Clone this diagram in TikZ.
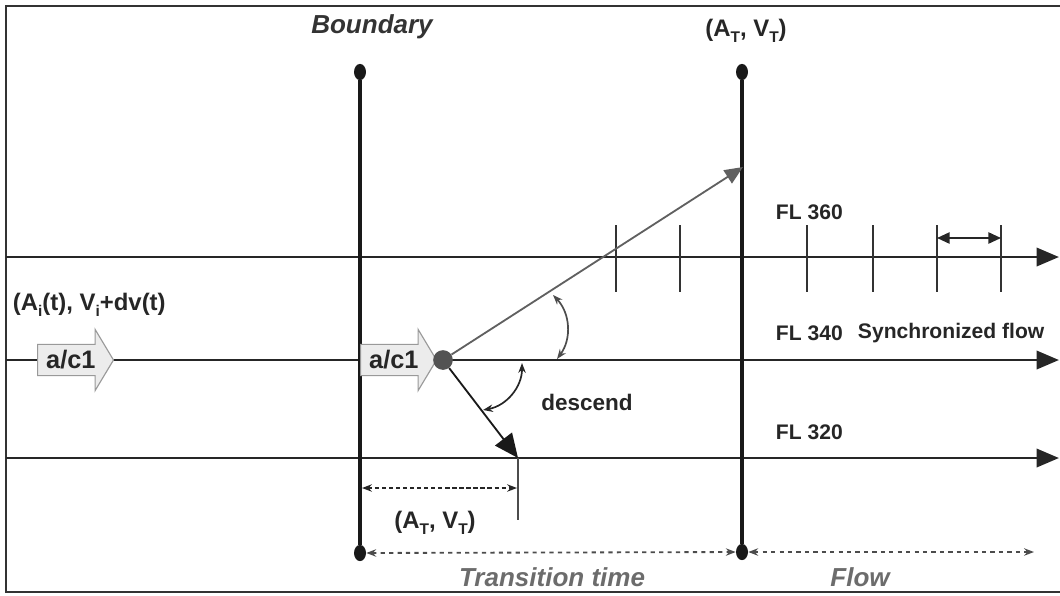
\documentclass[tikz,border=0pt]{standalone}
\usepackage{fontspec}
\setmainfont{Liberation Sans}
\usetikzlibrary{arrows.meta,shapes.arrows,shapes.geometric,positioning}

\newcommand{\lowsub}[1]{\raisebox{-0.5ex}{\fontsize{11}{12}\selectfont #1}}

\begin{document}
\begin{tikzpicture}[
    x=0.025cm, y=-0.025cm,
    lbl/.style={font=\fontsize{17}{20}\selectfont\bfseries, text=black!85},
    fltxt/.style={font=\fontsize{15}{18}\selectfont\bfseries, text=black!85, anchor=west},
    captxt/.style={font=\fontsize{18.5}{22}\selectfont\bfseries\itshape},
    flight/.style={draw=black!85, line width=2.1pt, -{Triangle[length=16pt,width=13pt]}},
    post/.style={draw=black!90, line width=2.8pt},
    postend/.style={ellipse, fill=black!90, minimum width=8.5pt, minimum height=11.5pt, inner sep=0pt},
    tickmark/.style={draw=black!80, line width=1.3pt},
    plane/.style={single arrow, draw=gray!80, fill=gray!15, line width=0.8pt,
        minimum height=54pt, single arrow head extend=10.6pt,
        single arrow tip angle=118, inner xsep=2pt, inner ysep=4pt,
        font=\fontsize{18}{20}\selectfont\bfseries, text=black!85},
    timeline/.style={draw=gray!60!black, dashed, line width=1.3pt,
        {Stealth[length=7pt]}-{Stealth[length=7pt]}}
]

\useasboundingbox (0,0) rectangle (1060,595);
\draw[line width=1.4pt, black!80] (1062,6) -- (6,6) -- (6,592) -- (1062,592);

%% ── Flight levels ────────────────────────────────────────────────
\coordinate (fl360w) at (6,257);  \coordinate (fl360e) at (1059,257);
\coordinate (fl340w) at (6,360);  \coordinate (fl340e) at (1059,360);
\coordinate (fl320w) at (6,458);  \coordinate (fl320e) at (1059,458);
\draw[flight] (fl360w) -- (fl360e);
\draw[flight] (fl340w) -- (fl340e);
\draw[flight] (fl320w) -- (fl320e);

\node[fltxt] (lab360) at (771,212) {FL 360};
\node[fltxt] (lab340) at (771,333) {FL 340};
\node[fltxt] (labsync) at (853,333) {Synchronized flow};
\node[fltxt] (lab320) at (771,432) {FL 320};

%% ── Spacing ticks on FL 360 ──────────────────────────────────────
\foreach \tx in {616,680,807,873,937,1001}
    \draw[tickmark] (\tx,225) -- (\tx,292);
\coordinate (gapL) at (937,238);
\coordinate (gapR) at (1001,238);
\draw[line width=1.3pt, black!85, {Triangle[length=9pt,width=8pt]}-{Triangle[length=9pt,width=8pt]}]
    (gapL) -- (gapR);

%% ── Boundary and target posts ────────────────────────────────────
\node[postend] (bndtop) at (360,72) {};
\node[postend] (bndbot) at (360,553) {};
\node[postend] (tgttop) at (742,72) {};
\node[postend] (tgtbot) at (742,552) {};
\draw[post] (bndtop) -- (bndbot);
\draw[post] (tgttop) -- (tgtbot);

\node[captxt, text=black!80] (bndlab) at (372,27) {Boundary};
\node[lbl] (tgtlab) at (746,31) {(A\lowsub{T}, V\lowsub{T})};

%% ── Aircraft ─────────────────────────────────────────────────────
\node[plane, anchor=tail] (ac1) at (37,360) {a/c1};
\node[lbl, anchor=west] (state) at (8,305) {(A\lowsub{i}(t), V\lowsub{i}+dv(t)};
\node[plane, anchor=tail] (ac2) at (360,360) {a/c1};
\node[circle, fill=gray!65!black, minimum size=14pt, inner sep=0pt] (pos) at (443,360) {};

%% ── Climb and descend paths ──────────────────────────────────────
\coordinate (climb) at (743,167);
\coordinate (dsc) at (518,458);
\coordinate (dscfoot) at (518,520);
\draw[gray!75!black, line width=1.3pt, -{Triangle[length=13pt,width=11pt]}] (pos) -- (climb);
\draw[black!90, line width=1.3pt, -{Triangle[length=17pt,width=15pt]}] (pos) -- (dsc);
\draw[black!70, line width=1.2pt] (dsc) -- (dscfoot);

\coordinate (upA) at (553,295);
\coordinate (upB) at (557,359);
\draw[gray!60!black, line width=1.2pt, {Stealth[length=7pt]}-{Stealth[length=7pt]}]
    (upA) to[bend left=40] (upB);
\coordinate (dnA) at (522,363);
\coordinate (dnB) at (483,410);
\draw[black!85, line width=1.2pt, {Stealth[length=7pt]}-{Stealth[length=7pt]}]
    (dnA) to[bend left=40] (dnB);
\node[lbl, font=\fontsize{16}{18}\selectfont\bfseries] (dsclab) at (587,402) {descend};

%% ── Transition distance ──────────────────────────────────────────
\coordinate (trL) at (362,488);
\coordinate (trR) at (517,488);
\draw[black!85, densely dashed, line width=1.3pt, {Stealth[length=7pt]}-{Stealth[length=7pt]}]
    (trL) -- (trR);
\node[lbl] (trlab) at (435,523) {(A\lowsub{T}, V\lowsub{T})};

%% ── Time axis ────────────────────────────────────────────────────
\coordinate (flowend) at (1034,552);
\draw[timeline] (bndbot) -- (tgtbot);
\draw[timeline] (tgtbot) -- (flowend);
\node[captxt, text=gray!85!black] (ttlab) at (552,577) {Transition time};
\node[captxt, text=gray!85!black] (flowlab) at (860,577) {Flow};

\end{tikzpicture}
\end{document}
